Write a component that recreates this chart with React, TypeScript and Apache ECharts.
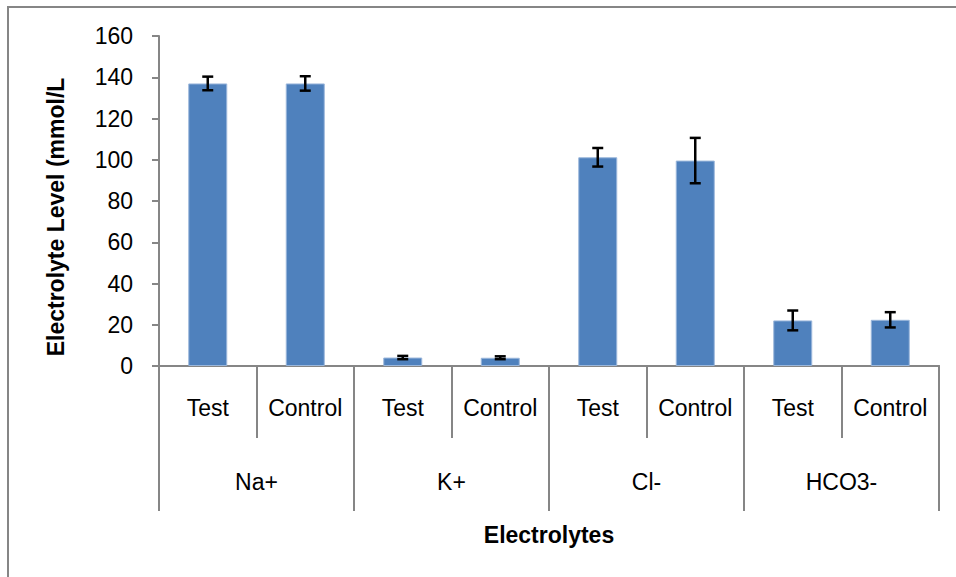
import React, { useEffect, useRef } from "react";
import * as echarts from "echarts";

const subCategories = ["Test", "Control", "Test", "Control", "Test", "Control", "Test", "Control"];
const groups = ["Na+", "K+", "Cl-", "HCO3-"];
const means = [137, 137, 4.1, 4.0, 101.2, 99.6, 22.1, 22.4];
const errors = [3.3, 3.5, 0.8, 0.7, 4.5, 11, 4.8, 3.7];
const yTicks = { min: 0, max: 160, interval: 20 };

const FONT = "Liberation Sans, Arial, sans-serif";
const GRAY = "#868686";

export default function App() {
  const ref = useRef<HTMLDivElement>(null);
  useEffect(() => {
    if (!ref.current) return;
    const chart = echarts.init(ref.current, null, { renderer: "svg" });
    const errData = means.map((m, i) => [i, m - errors[i], m + errors[i]]);
    chart.setOption({
      animation: false,
      backgroundColor: "#fff",
      textStyle: { fontFamily: FONT },
      grid: { left: 159, top: 36, width: 780, height: 330 },
      graphic: [
        {
          type: "rect",
          z: -1,
          shape: { x: 8, y: 7, width: 1000, height: 700 },
          style: { fill: "none", stroke: GRAY, lineWidth: 2 },
        },
        {
          type: "text",
          x: 56,
          y: 217,
          rotation: Math.PI / 2,
          style: {
            text: "Electrolyte Level (mmol/L",
            font: `bold 23px ${FONT}`,
            fill: "#000",
            align: "center",
            verticalAlign: "middle",
          },
        },
        {
          type: "text",
          x: 549,
          y: 535,
          style: {
            text: "Electrolytes",
            font: `bold 23px ${FONT}`,
            fill: "#000",
            align: "center",
            verticalAlign: "middle",
          },
        },
      ],
      xAxis: [
        {
          type: "category",
          data: subCategories,
          position: "bottom",
          axisLine: { show: true, lineStyle: { color: GRAY, width: 2 } },
          axisTick: { show: true, interval: 0, length: 72, lineStyle: { color: GRAY, width: 2 } },
          axisLabel: {
            interval: 0,
            margin: 30,
            color: "#000",
            fontSize: 23,
            lineHeight: 23,
            fontFamily: FONT,
          },
        },
        {
          type: "category",
          data: groups,
          position: "bottom",
          axisLine: { show: true, lineStyle: { color: GRAY, width: 2 } },
          axisTick: { show: true, interval: 0, length: 145, lineStyle: { color: GRAY, width: 2 } },
          axisLabel: {
            interval: 0,
            margin: 104,
            color: "#000",
            fontSize: 23,
            lineHeight: 23,
            fontFamily: FONT,
          },
        },
      ],
      yAxis: {
        type: "value",
        min: yTicks.min,
        max: yTicks.max,
        interval: yTicks.interval,
        splitLine: { show: false },
        axisLine: { show: true, lineStyle: { color: GRAY, width: 2 } },
        axisTick: { show: true, length: 7, lineStyle: { color: GRAY, width: 2 } },
        axisLabel: { margin: 26, color: "#000", fontSize: 23, fontFamily: FONT },
      },
      series: [
        {
          type: "bar",
          xAxisIndex: 0,
          data: means,
          barWidth: 39,
          itemStyle: { color: "#4F81BD", borderColor: "#9BB7DB", borderWidth: 1 },
          z: 2,
        },
        {
          type: "custom",
          xAxisIndex: 0,
          data: errData,
          z: 3,
          renderItem: (params: any, api: any) => {
            const i = api.value(0);
            const lo = api.coord([i, api.value(1)]);
            const hi = api.coord([i, api.value(2)]);
            const hw = 5.5;
            const style = { stroke: "#000", lineWidth: 2.5 };
            return {
              type: "group",
              children: [
                { type: "line", shape: { x1: hi[0], y1: hi[1], x2: lo[0], y2: lo[1] }, style },
                { type: "line", shape: { x1: hi[0] - hw, y1: hi[1], x2: hi[0] + hw, y2: hi[1] }, style },
                { type: "line", shape: { x1: lo[0] - hw, y1: lo[1], x2: lo[0] + hw, y2: lo[1] }, style },
              ],
            };
          },
        },
      ],
    });
    return () => chart.dispose();
  }, []);
  return (
    <div
      ref={ref}
      style={{ position: "fixed", left: 0, top: 0, width: 956, height: 577 }}
    />
  );
}
